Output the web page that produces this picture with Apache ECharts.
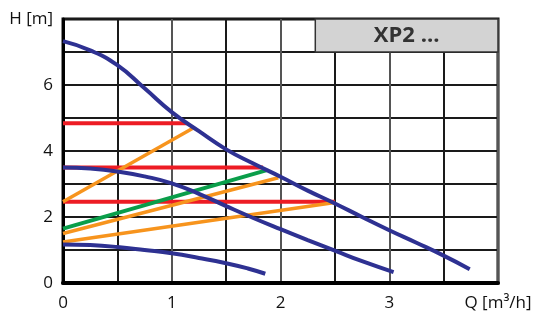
<!DOCTYPE html>
<html>
<head>
<meta charset="utf-8">
<script src="https://cdn.jsdelivr.net/npm/echarts@6/dist/echarts.min.js"></script>
<style>html,body{margin:0;padding:0;background:#fff}#c{width:552px;height:327px}</style>
</head>
<body>
<div id="c"></div>
<script>
// Pump curves (Q [m3/h], H [m])
const blueMax = [[0,7.33],[0.25,7.05],[0.5,6.6],[0.75,5.9],[1.0,5.18],[1.25,4.6],[1.5,4.05],[1.75,3.62],[2.0,3.22],[2.25,2.8],[2.5,2.41],[2.75,2.0],[3.0,1.6],[3.25,1.22],[3.5,0.83],[3.74,0.42]];
const blueMid = [[0,3.5],[0.25,3.47],[0.5,3.38],[0.75,3.23],[1.0,3.02],[1.25,2.7],[1.5,2.33],[1.75,1.97],[2.0,1.63],[2.25,1.3],[2.5,0.98],[2.75,0.66],[3.04,0.33]];
const blueMin = [[0,1.17],[0.25,1.15],[0.5,1.09],[0.75,1.0],[1.0,0.9],[1.25,0.76],[1.5,0.6],[1.7,0.44],[1.86,0.28]];
const redTop = [[0,4.84],[1.14,4.84]];
const redMid = [[0,3.5],[1.84,3.5]];
const redLow = [[0,2.46],[2.5,2.46]];
const orange1 = [[0,2.46],[1.19,4.68]];
const orange2 = [[0,1.5],[1.98,3.19]];
const orange3 = [[0,1.24],[2.5,2.44]];
const green1 = [[0,1.65],[1.875,3.42]];
const xTickLabels = {0:'0',1:'1',2:'2',3:'3',4:'Q [m³/h]'};
const yTickLabels = {0:'0',2:'2',4:'4',6:'6',8:'H [m]'};
const title = 'XP2 ...';

const FONT = 'Open Sans';
const line = (data, color, w, smooth) => ({
  type:'line', data, smooth: smooth ? 0.5 : false,
  showSymbol:false, symbol:'none',
  lineStyle:{color, width:w, cap:'butt'}, silent:true, animation:false, z: smooth?4:3
});

const chart = echarts.init(document.getElementById('c'), null, {renderer:'canvas'});
chart.setOption({
  animation:false,
  backgroundColor:'#fff',
  grid:{left:63, right:54, top:19, bottom:44, show:true, borderColor:'#111', borderWidth:3, backgroundColor:'#fff'},
  xAxis:{type:'value', min:0, max:4, interval:0.5,
    axisLine:{show:true, onZero:false, lineStyle:{color:'#000', width:4}},
    axisTick:{show:false},
    axisLabel:{margin:12, fontFamily:FONT, fontSize:17, color:'#111',
      showMaxLabel:true, formatter:v => xTickLabels[v] !== undefined ? xTickLabels[v] : ''},
    splitLine:{show:true, lineStyle:{color:['#555','#1a1a1a'], width:2}}
  },
  yAxis:{type:'value', min:0, max:8, interval:1,
    axisLine:{show:true, onZero:false, lineStyle:{color:'#000', width:3}},
    axisTick:{show:false},
    axisLabel:{margin:10, fontFamily:FONT, fontSize:17, color:'#111',
      showMaxLabel:true, formatter:v => yTickLabels[v] !== undefined ? yTickLabels[v] : ''},
    splitLine:{show:true, lineStyle:{color:'#1a1a1a', width:2}}
  },
  series:[
    line(redTop,'#ed1c24',4,false),
    line(redMid,'#ed1c24',4,false),
    line(redLow,'#ed1c24',4,false),
    line(orange1,'#f7941d',3.5,false),
    line(orange2,'#f7941d',3.5,false),
    line(orange3,'#f7941d',3.5,false),
    line(green1,'#0a9e4a',4,false),
    line(blueMax,'#2e3192',4,true),
    line(blueMid,'#2e3192',4,true),
    Object.assign(line(blueMin,'#2e3192',4,true), {
      markArea:{silent:true,
        itemStyle:{color:'#d3d3d3', borderColor:'#333', borderWidth:1.5},
        label:{show:true, position:'inside', formatter:title, fontFamily:FONT, fontSize:22, fontWeight:'bold', color:'#333'},
        data:[[{xAxis:2.32, yAxis:7},{xAxis:4, yAxis:8}]]}
    })
  ]
});
</script>
</body>
</html>
